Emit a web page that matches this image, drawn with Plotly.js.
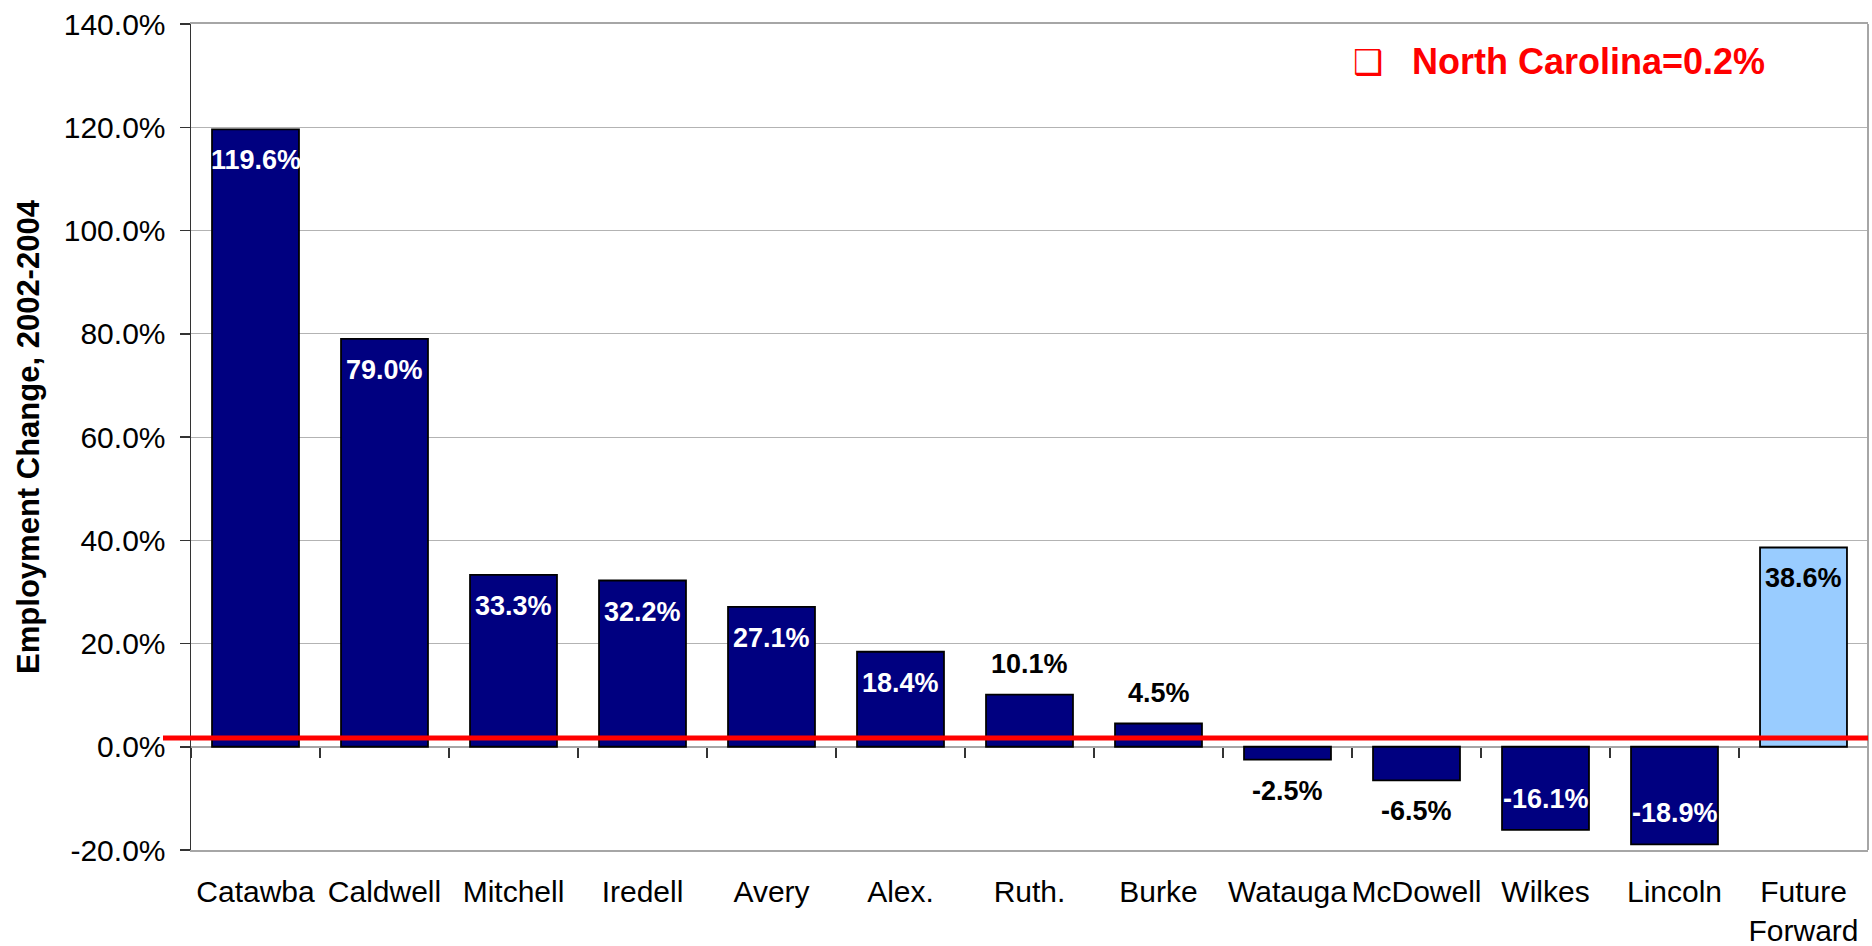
<!DOCTYPE html>
<html>
<head>
<meta charset="utf-8">
<script src="https://cdn.plot.ly/plotly-3.0.1.min.js"></script>
<style>
  html, body { margin: 0; padding: 0; background: #ffffff; }
  #chart { width: 1872px; height: 946px; }
</style>
</head>
<body>
<div id="chart"></div>
<script>
// ---- data ----
const categories = ['Catawba', 'Caldwell', 'Mitchell', 'Iredell', 'Avery', 'Alex.', 'Ruth.', 'Burke',
                    'Watauga', 'McDowell', 'Wilkes', 'Lincoln', 'Future<br>Forward'];
const changePct = [119.6, 79.0, 33.3, 32.2, 27.1, 18.4, 10.1, 4.5, -2.5, -6.5, -16.1, -18.9, 38.6];
const regionName = 'Future<br>Forward';
const ncLabel = 'North Carolina=0.2%';
const ncLineLevel = 1.7;   // level at which the red reference line is drawn in the picture
const yTickVals = [-20, 0, 20, 40, 60, 80, 100, 120, 140];
const yTickText = yTickVals.map(v => v.toFixed(1) + '%');
const yTitle = 'Employment Change, 2002-2004';

const FONT = 'Arial, "Liberation Sans", sans-serif';
const NAVY = '#000080';
const LIGHT = '#99CCFF';

const barColors = categories.map(c => c === regionName ? LIGHT : NAVY);

const bars = {
  type: 'bar',
  x: categories,
  y: changePct,
  marker: { color: barColors, line: { color: '#000000', width: 1.8 } },
  hoverinfo: 'skip',
  xaxis: 'x',
  yaxis: 'y'
};

// invisible helper trace so the zero-line tick axis exists
const tickHelper = {
  type: 'scatter',
  mode: 'none',
  x: categories,
  y: changePct,
  xaxis: 'x2',
  yaxis: 'y',
  hoverinfo: 'skip',
  showlegend: false
};

// data labels: inside the bar end for large bars, beyond the bar end for small ones
const labelAnnotations = changePct.map((v, i) => {
  const inside = Math.abs(v) > 15;
  const dir = v >= 0 ? 1 : -1;
  const isRegion = categories[i] === regionName;
  return {
    x: categories[i],
    y: v,
    xref: 'x',
    yref: 'y',
    text: v.toFixed(1) + '%',
    showarrow: false,
    xanchor: 'center',
    yanchor: 'middle',
    yshift: inside ? -31 * dir : 31 * dir,
    font: { family: FONT, size: 27, color: inside && !isRegion ? '#ffffff' : '#000000', weight: 'bold' }
  };
});

const layout = {
  width: 1872,
  height: 946,
  paper_bgcolor: '#ffffff',
  plot_bgcolor: '#ffffff',
  margin: { l: 191, r: 4, t: 24, b: 96 },
  showlegend: false,
  bargap: 0.326,
  font: { family: FONT, color: '#000000' },
  xaxis: {
    type: 'category',
    categoryarray: categories,
    range: [-0.5, categories.length - 0.5],
    showgrid: false,
    zeroline: false,
    showline: true,
    mirror: true,
    linecolor: '#a6a6a6',
    linewidth: 2,
    ticks: '',
    ticklabelstandoff: 14,
    tickfont: { family: FONT, size: 30, color: '#000000' },
    fixedrange: true
  },
  xaxis2: {
    type: 'category',
    categoryarray: categories,
    range: [-0.5, categories.length - 0.5],
    overlaying: 'x',
    anchor: 'free',
    position: 20 / 160,
    side: 'bottom',
    showgrid: false,
    zeroline: false,
    showline: false,
    ticks: 'outside',
    tickson: 'boundaries',
    ticklen: 10,
    tickwidth: 1.5,
    tickcolor: '#333333',
    showticklabels: false,
    fixedrange: true
  },
  yaxis: {
    range: [-20, 140],
    tickmode: 'array',
    tickvals: yTickVals,
    ticktext: yTickText,
    showgrid: true,
    gridcolor: '#b3b3b3',
    gridwidth: 1,
    zeroline: true,
    zerolinecolor: '#a6a6a6',
    zerolinewidth: 1.5,
    showline: true,
    linecolor: '#333333',
    linewidth: 1.5,
    ticks: 'outside',
    ticklen: 10,
    tickwidth: 1.5,
    tickcolor: '#333333',
    ticklabelstandoff: 8,
    tickfont: { family: FONT, size: 30, color: '#000000' },
    title: { text: yTitle, font: { family: FONT, size: 31, color: '#000000', weight: 'bold' }, standoff: 15 },
    automargin: false,
    fixedrange: true
  },
  shapes: [
    // right frame edge
    { type: 'line', xref: 'paper', yref: 'paper', x0: 1, x1: 1, y0: 0, y1: 1,
      line: { color: '#a6a6a6', width: 2 }, layer: 'above' },
    // North Carolina reference line
    { type: 'line', xref: 'paper', yref: 'y', x0: -0.0167, x1: 1, y0: ncLineLevel, y1: ncLineLevel,
      line: { color: '#ff0000', width: 5 }, layer: 'above' }
  ],
  annotations: labelAnnotations.concat([
    { xref: 'paper', yref: 'paper', x: 0.7016, y: 0.954, xanchor: 'center', yanchor: 'middle',
      text: '❑', showarrow: false,
      font: { family: '"DejaVu Sans", sans-serif', size: 34, color: '#ff0000' } },
    { xref: 'paper', yref: 'paper', x: 0.7269, y: 0.954, xanchor: 'left', yanchor: 'middle',
      text: ncLabel, showarrow: false,
      font: { family: FONT, size: 36, color: '#ff0000', weight: 'bold' } }
  ])
};

Plotly.newPlot('chart', [bars, tickHelper], layout, { displayModeBar: false, staticPlot: true });
</script>
</body>
</html>
